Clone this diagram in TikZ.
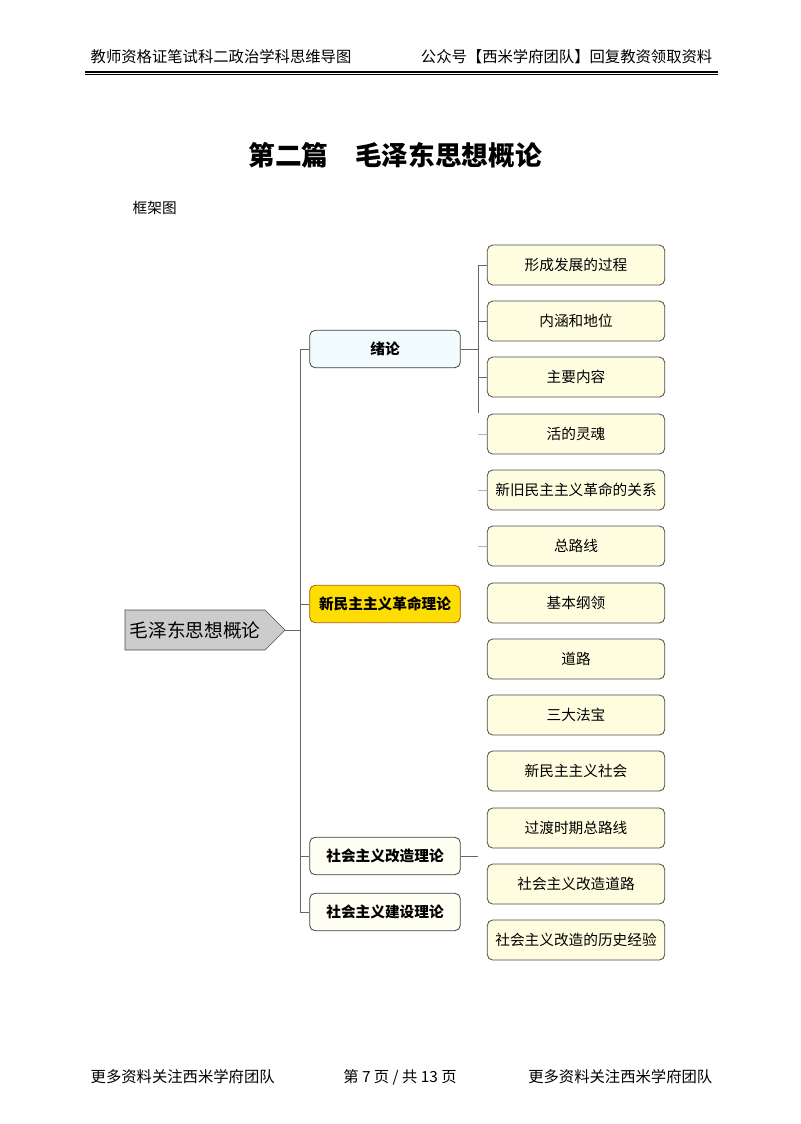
\documentclass[tikz,border=0pt]{standalone}
\usepackage{fontspec}
\setmainfont{Noto Sans CJK SC}
\usetikzlibrary{shapes.symbols}
\begin{document}
\begin{tikzpicture}[x=0.75pt,y=-0.75pt,
  lone/.style={draw=black!75,line width=0.6pt,rounded corners=4pt,minimum width=113pt,minimum height=28pt,font=\fontsize{11}{13}\selectfont\bfseries,inner sep=1pt},
  ltwo/.style={draw=black!70,line width=0.6pt,rounded corners=4pt,fill=yellow!12,minimum width=133pt,minimum height=30pt,font=\fontsize{11}{13}\selectfont,inner sep=1pt},
  conn/.style={draw=black!60,line width=0.5pt},
  hdr/.style={font=\fontsize{11.5}{13}\selectfont,anchor=west}]
\useasboundingbox (0,0) rectangle (800,1124);
\node[hdr] (h1) at (86,57) {教师资格证笔试科二政治学科思维导图};
\node[hdr,anchor=east] (h2) at (717,57) {公众号【西米学府团队】回复教资领取资料};
\draw[line width=1.2pt] (85,72) -- (718,72);
\draw[line width=0.4pt] (85,74.5) -- (718,74.5);
\node[font=\fontsize{20}{24}\selectfont\bfseries] (title) at (395,155) {第二篇\quad 毛泽东思想概论};
\node[font=\fontsize{11}{13}\selectfont,anchor=west] (kjt) at (128,208) {框架图};
\node[signal,signal to=east,draw=black!70,fill=black!20,minimum width=120pt,minimum height=30pt,inner sep=2pt,font=\fontsize{14}{16}\selectfont] (root) at (195,630) {毛泽东思想概论};
\node[lone,fill=cyan!5] (a) at (385,349) {绪论};
\node[lone,fill=yellow!80!orange,draw=orange!70!black] (b) at (385,604) {新民主主义革命理论};
\node[lone,fill=yellow!5] (c) at (385,856) {社会主义改造理论};
\node[lone,fill=yellow!5] (d) at (385,912) {社会主义建设理论};
\foreach \n/\y/\t in {1/265/形成发展的过程,2/321/内涵和地位,3/377/主要内容,4/434/活的灵魂,5/490/新旧民主主义革命的关系,6/546/总路线,7/603/基本纲领,8/659/道路,9/715/三大法宝,10/771/新民主主义社会,11/828/过渡时期总路线,12/884/社会主义改造道路,13/940/社会主义改造的历史经验}
  \node[ltwo] (s\n) at (576,\y) {\t};
\coordinate (tr) at (300,630);
\draw[conn] (root.east) -- (tr);
\draw[conn] (300,349) -- (300,912);
\foreach \n in {a,b,c,d} \draw[conn] (300,0 |- \n.west) -- (\n.west);
\draw[conn] (478,265) -- (478,413);
\draw[conn] (a.east) -- (478,349);
\foreach \n in {1,2,3} \draw[conn] (478,0 |- s\n.west) -- (s\n.west);
\foreach \n in {4,5,6} \draw[conn,black!30] (478,0 |- s\n.west) -- (s\n.west);
\draw[conn] (c.east) -- (478,856);
\node[font=\fontsize{11.5}{13}\selectfont,anchor=west] (f1) at (86,1077) {更多资料关注西米学府团队};
\node[font=\fontsize{11.5}{13}\selectfont] (f2) at (400,1077) {第 7 页 / 共 13 页};
\node[font=\fontsize{11.5}{13}\selectfont,anchor=east] (f3) at (717,1077) {更多资料关注西米学府团队};
\end{tikzpicture}
\end{document}
